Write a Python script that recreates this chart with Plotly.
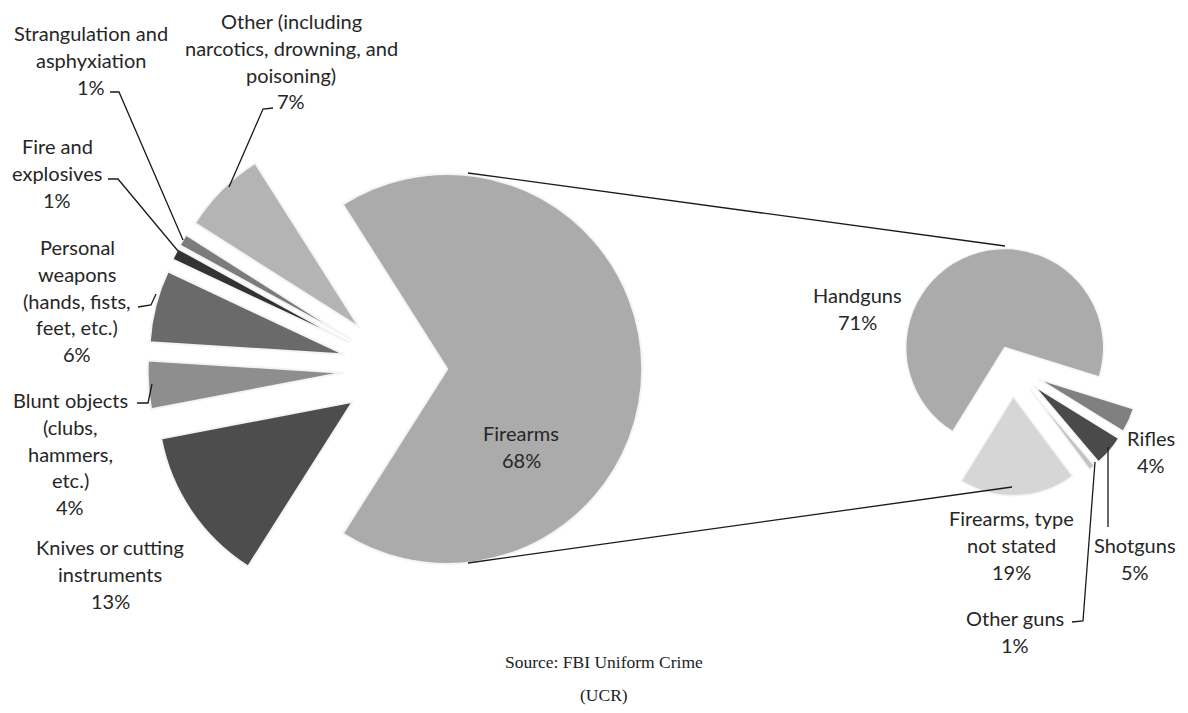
import plotly.graph_objects as go

# window is 1188x713; the page body has an 8px margin, so the figure is
# drawn 16px smaller and all pixel positions below are window positions.
WIN_W, WIN_H = 1188, 713
OFF = 8
FW, FH = WIN_W - 2 * OFF, WIN_H - 2 * OFF

# ---------------- data ----------------
main_labels = ["Firearms", "Knives or cutting instruments", "Blunt objects (clubs, hammers, etc.)",
               "Personal weapons (hands, fists, feet, etc.)", "Fire and explosives",
               "Strangulation and asphyxiation", "Other (including narcotics, drowning, and poisoning)"]
main_values = [68, 13, 4, 6, 1, 1, 7]
main_colors = ["#ababab", "#4d4d4d", "#8e8e8e", "#6a6a6a", "#333333", "#7c7c7c", "#b4b4b4"]
main_pull = [0.237, 0.3, 0.3, 0.3, 0.3, 0.3, 0.3]

gun_labels = ["Handguns", "Rifles", "Shotguns", "Other guns", "Firearms, type not stated"]
gun_values = [71, 4, 5, 1, 19]
gun_colors = ["#ababab", "#808080", "#4a4a4a", "#c4c4c4", "#d6d6d6"]
gun_pull = [0.21, 0.3, 0.3, 0.3, 0.3]

# label text lines, with pixel positions (center x, first-line y)
label_blocks = [
    (["Strangulation and", "asphyxiation", "1%"], 91, 33),
    (["Other (including", "narcotics, drowning, and", "poisoning)", "7%"], 291, 21),
    (["Fire and", "explosives", "1%"], 57, 146),
    (["Personal", "weapons", "(hands, fists,", "feet, etc.)", "6%"], 77, 247),
    (["Blunt objects", "(clubs,", "hammers,", "etc.)", "4%"], 70, 400),
    (["Knives or cutting", "instruments", "13%"], 110, 547),
    (["Firearms", "68%"], 521, 433),
    (["Handguns", "71%"], 857, 295),
    (["Rifles", "4%"], 1151, 438),
    (["Firearms, type", "not stated", "19%"], 1011, 518),
    (["Shotguns", "5%"], 1135, 545),
    (["Other guns", "1%"], 1015, 618),
]
source_lines = ["Source: FBI Uniform Crime", "(UCR)"]

# ---------------- geometry helpers ----------------
def px(x):
    return (x - OFF) / FW

def py(y):
    return 1 - (y - OFF) / FH

def pie_domain(cx, cy, r, maxpull):
    half = r * (1 + maxpull)
    return dict(x=[px(cx - half), px(cx + half)], y=[py(cy + half), py(cy - half)])

fig = go.Figure()

fig.add_trace(go.Pie(
    labels=main_labels, values=main_values, sort=False, direction="clockwise",
    rotation=-32.4, pull=main_pull, textinfo="none", hoverinfo="label+percent",
    marker=dict(colors=main_colors, line=dict(color="#f4f4f4", width=2)),
    domain=pie_domain(401, 369, 195, max(main_pull)), showlegend=False,
))

fig.add_trace(go.Pie(
    labels=gun_labels, values=gun_values, sort=False, direction="clockwise",
    rotation=-148.3, pull=gun_pull, textinfo="none", hoverinfo="label+percent",
    marker=dict(colors=gun_colors, line=dict(color="#f4f4f4", width=1.5)),
    domain=pie_domain(1012, 367, 99, max(gun_pull)), showlegend=False,
))

FONT = "Lato, 'Open Sans', sans-serif"
LINE_H = 26.8
annotations = []
for lines, x, y0 in label_blocks:
    for i, t in enumerate(lines):
        annotations.append(dict(
            x=px(x), y=py(y0 + i * LINE_H), xref="paper", yref="paper",
            text=t, showarrow=False, xanchor="center", yanchor="middle",
            font=dict(family=FONT, size=20, color="#262626")))
for i, t in enumerate(source_lines):
    annotations.append(dict(
        x=px(604), y=py(662 + i * 33), xref="paper", yref="paper",
        text=t, showarrow=False, xanchor="center", yanchor="middle",
        font=dict(family="Liberation Serif, serif", size=17.5, color="#222222")))

def path(points):
    d = "M " + " L ".join(f"{px(x)},{py(y)}" for x, y in points)
    return dict(type="path", path=d, xref="paper", yref="paper",
                line=dict(color="#1a1a1a", width=1.3))

shapes = [
    # connectors between pies
    path([(468, 173), (1005, 246)]),
    path([(468, 563), (1012, 487)]),
    # leader lines
    path([(110, 92), (119, 92), (183, 240)]),
    path([(273, 108), (263, 109), (229, 187)]),
    path([(108, 179), (118, 179), (178, 251)]),
    path([(138, 307), (151, 305), (156, 294)]),
    path([(137, 403), (148, 403), (152, 384)]),
    path([(1108, 447), (1108, 527)]),
    path([(1072, 622), (1083, 621), (1095, 462)]),
]

fig.update_layout(
    width=FW, height=FH, margin=dict(l=0, r=0, t=0, b=0),
    paper_bgcolor="white", plot_bgcolor="white",
    annotations=annotations, shapes=shapes,
)

fig.write_html("out.html")
